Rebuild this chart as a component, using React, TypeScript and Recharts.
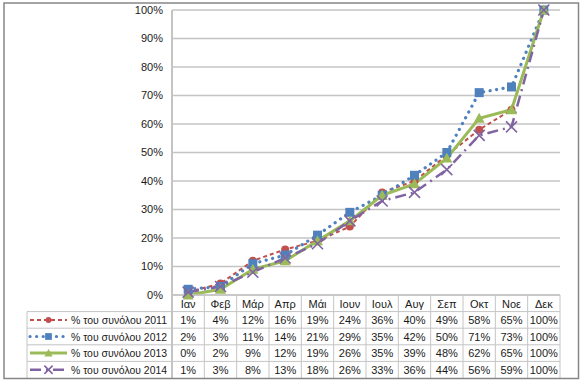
import React from 'react';
import { LineChart, Line, XAxis, YAxis, CartesianGrid } from 'recharts';

const months = ['Ιαν', 'Φεβ', 'Μάρ', 'Απρ', 'Μάι', 'Ιουν', 'Ιουλ', 'Αυγ', 'Σεπ', 'Οκτ', 'Νοε', 'Δεκ'];
const share2011 = [1, 4, 12, 16, 19, 24, 36, 40, 49, 58, 65, 100];
const share2012 = [2, 3, 11, 14, 21, 29, 35, 42, 50, 71, 73, 100];
const share2013 = [0, 2, 9, 12, 19, 26, 35, 39, 48, 62, 65, 100];
const share2014 = [1, 3, 8, 13, 18, 26, 33, 36, 44, 56, 59, 100];
const yTicks = [0, 10, 20, 30, 40, 50, 60, 70, 80, 90, 100];

const SERIES = [
  { key: 'y2011', name: '% του συνόλου 2011', values: share2011, color: '#C0504D', width: 2, dash: '4 3', marker: 'circle' },
  { key: 'y2012', name: '% του συνόλου 2012', values: share2012, color: '#4F81BD', width: 3.2, dash: '0.1 6.5', marker: 'square' },
  { key: 'y2013', name: '% του συνόλου 2013', values: share2013, color: '#9BBB59', width: 3, dash: undefined, marker: 'triangle' },
  { key: 'y2014', name: '% του συνόλου 2014', values: share2014, color: '#8064A2', width: 2.5, dash: '11 5 2 5', marker: 'cross' },
];

const W = 585;
const H = 383;
const PLOT_LEFT = 172;
const PLOT_RIGHT = 560;
const PLOT_BOTTOM = 295;
const BAND = (PLOT_RIGHT - PLOT_LEFT) / months.length;
const ROW = 16.6;
const FONT = '"Liberation Sans", Arial, sans-serif';
const GRID = '#c4c4c4';

const data = months.map((m, i) => {
  const row: Record<string, any> = { m };
  SERIES.forEach(s => { row[s.key] = s.values[i]; });
  return row;
});

const Marker = ({ kind, cx, cy, color, size = 1 }: any) => {
  if (cx == null || cy == null) return null;
  if (kind === 'circle') return <circle cx={cx} cy={cy} r={4 * size} fill={color} />;
  if (kind === 'square') {
    const h = 4.5 * size;
    return <rect x={cx - h} y={cy - h} width={h * 2} height={h * 2} fill={color} />;
  }
  if (kind === 'triangle') {
    const h = 5.5 * size;
    return <polygon points={`${cx},${cy - h} ${cx + h},${cy + h * 0.8} ${cx - h},${cy + h * 0.8}`} fill={color} />;
  }
  const h = 5.5 * size;
  return (
    <g stroke={color} strokeWidth={1.6}>
      <line x1={cx - h} y1={cy - h} x2={cx + h} y2={cy + h} />
      <line x1={cx - h} y1={cy + h} x2={cx + h} y2={cy - h} />
    </g>
  );
};

// each x tick draws one column of the data table under the plot
const TableTick = (props: any) => {
  const { x, y, payload } = props;
  const idx = props.index != null ? props.index : months.indexOf(payload.value);
  const half = BAND / 2;
  return (
    <g fontFamily={FONT} fontSize={11} fill="#1a1a1a">
      <text x={x} y={y + 12.5} textAnchor="middle">{payload.value}</text>
      <line x1={x + half} x2={x + half} y1={y} y2={y + ROW * 5} stroke={GRID} />
      {idx === 0 && <line x1={x - half} x2={x - half} y1={y} y2={y + ROW * 5} stroke={GRID} strokeWidth={2} />}
      {SERIES.map((s, i) => (
        <g key={s.key}>
          <line x1={x - half} x2={x + half} y1={y + ROW * (i + 1)} y2={y + ROW * (i + 1)} stroke={GRID} />
          <text x={x} y={y + ROW * (i + 1) + 12.5} textAnchor="middle">{s.values[idx]}%</text>
        </g>
      ))}
    </g>
  );
};

const LegendColumn = () => (
  <svg width={W} height={H} style={{ position: 'absolute', left: 0, top: 0, pointerEvents: 'none' }}>
    {SERIES.map((s, i) => {
      const top = PLOT_BOTTOM + ROW * (i + 1);
      const cy = top + ROW / 2;
      return (
        <g key={s.key}>
          <line x1={27} x2={PLOT_LEFT} y1={top} y2={top} stroke={GRID} />
          <line x1={30} x2={67} y1={cy} y2={cy} stroke={s.color} strokeWidth={s.width}
            strokeDasharray={s.dash} strokeLinecap={s.key === 'y2012' ? 'round' : 'butt'} />
          <Marker kind={s.marker} cx={48.5} cy={cy} color={s.color} size={0.75} />
          <text x={167} y={cy + 4} textAnchor="end" fontFamily={FONT} fontSize={10.5} fill="#1a1a1a"
            textLength={96} lengthAdjust="spacingAndGlyphs">{s.name}</text>
        </g>
      );
    })}
    <line x1={27} x2={27} y1={PLOT_BOTTOM + ROW} y2={PLOT_BOTTOM + ROW * 5} stroke={GRID} />
    <rect x={4} y={3} width={574.5} height={375.5} fill="none" stroke="#868686" strokeWidth={1.5} />
  </svg>
);

const App: React.FC = () => (
  <div style={{ position: 'absolute', left: 0, top: 0, width: W, height: H, background: '#fff' }}>
    <LineChart width={W} height={H} data={data} margin={{ top: 10, right: W - PLOT_RIGHT, bottom: 0, left: 0 }}>
      <CartesianGrid vertical={false} stroke={GRID} strokeWidth={1.5} />
      <XAxis
        dataKey="m"
        interval={0}
        height={H - PLOT_BOTTOM}
        padding={{ left: BAND / 2, right: BAND / 2 }}
        tickLine={false}
        tickSize={0}
        tickMargin={0}
        axisLine={{ stroke: GRID, strokeWidth: 1.5 }}
        tick={<TableTick />}
      />
      <YAxis
        domain={[0, 100]}
        ticks={yTicks}
        width={PLOT_LEFT}
        tickFormatter={(v: number) => `${v}%`}
        tickLine={false}
        tickSize={0}
        tickMargin={9}
        axisLine={{ stroke: GRID, strokeWidth: 2 }}
        tick={{ fontFamily: FONT, fontSize: 11, fill: '#1a1a1a' }}
      />
      {SERIES.map(s => (
        <Line
          key={s.key}
          dataKey={s.key}
          name={s.name}
          stroke={s.color}
          strokeWidth={s.width}
          strokeDasharray={s.dash}
          strokeLinecap={s.key === 'y2012' ? 'round' : 'butt'}
          isAnimationActive={false}
          dot={(p: any) => <Marker key={`${s.key}-${p.index}`} kind={s.marker} cx={p.cx} cy={p.cy} color={s.color} />}
          activeDot={false}
        />
      ))}
    </LineChart>
    <LegendColumn />
  </div>
);

export default App;
